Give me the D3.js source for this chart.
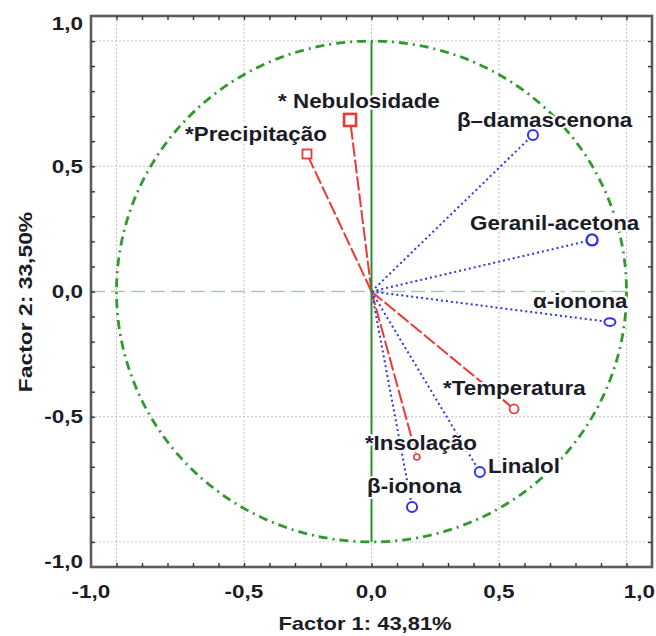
<!DOCTYPE html>
<html>
<head>
<meta charset="utf-8">
<script src="https://cdn.jsdelivr.net/npm/d3@7/dist/d3.min.js"></script>
<style>
body{margin:0;background:#fff;}
svg{display:block;}
</style>
</head>
<body>
<svg id="chart" width="656" height="636"></svg>
<script>

// factor loadings
var names = ['*Precipitação','* Nebulosidade','β–damascenona','Geranil-acetona','α-ionona','*Temperatura','*Insolação','Linalol','β-ionona'];
var groups = ['clima','clima','composto','composto','composto','clima','clima','composto','composto'];
var factor1 = [-0.253,-0.084,0.633,0.865,0.935,0.559,0.178,0.425,0.159];
var factor2 = [0.549,0.685,0.625,0.206,-0.122,-0.469,-0.661,-0.721,-0.860];

var tickVals = [-1.1,-0.5,0,0.5,1.1];
var tickLabels = ['-1,0','-0,5','0,0','0,5','1,0'];
var gridVals = [-1,-0.5,0,0.5,1];
var minorVals = [-1,-0.9,-0.8,-0.7,-0.6,-0.5,-0.4,-0.3,-0.2,-0.1,0,0.1,0.2,0.3,0.4,0.5,0.6,0.7,0.8,0.9,1];
var xTitle = 'Factor 1: 43,81%';
var yTitle = 'Factor 2: 33,50%';

// looks, kept apart from the values
var groupColor = {'clima':'#ee3838','composto':'#3434e4'};
var groupDash = {'clima':'14,3','composto':'2,3'};
var markStyle = {
	'*Precipitação':{shape:'square',size:9,w:1.8,lab:[-122,-13]},
	'* Nebulosidade':{shape:'square',size:12,w:2.6,lab:[-72,-12]},
	'β–damascenona':{shape:'circle',size:5,w:2,lab:[-76,-8]},
	'Geranil-acetona':{shape:'circle',size:5.5,w:2.4,lab:[-122,-10]},
	'α-ionona':{shape:'ellipse',size:5.5,w:2,lab:[-77,-14]},
	'*Temperatura':{shape:'circle',size:4.5,w:1.8,lab:[-71,-14]},
	'*Insolação':{shape:'circle',size:3,w:1.6,lab:[-52,-7]},
	'Linalol':{shape:'circle',size:5,w:2,lab:[8,1]},
	'β-ionona':{shape:'circle',size:5,w:2,lab:[-45,-14]}
};

var pLeft = 91, pRight = 652, pTop = 16, pBottom = 567;
var fontFam = '"Liberation Sans", Arial, sans-serif';

var svg = d3.select('#chart');
var x = d3.scaleLinear().domain([-1.1,1.1]).range([pLeft,pRight]);
var y = d3.scaleLinear().domain([-1.1,1.1]).range([pBottom,pTop]);

var points = names.map(function(n,i){
	return {name:n, group:groups[i], f1:factor1[i], f2:factor2[i]};
});

// grid
var grid = svg.append('g').attr('class','grid');
grid.selectAll('line.gx').data(gridVals).enter().append('line')
	.attr('x1',function(d){return x(d);}).attr('x2',function(d){return x(d);})
	.attr('y1',pTop).attr('y2',pBottom)
	.attr('stroke','#c4c4c4').attr('stroke-width',1).attr('stroke-dasharray','2,2');
grid.selectAll('line.gy').data(gridVals).enter().append('line')
	.attr('x1',pLeft).attr('x2',pRight)
	.attr('y1',function(d){return y(d);}).attr('y2',function(d){return y(d);})
	.attr('stroke',function(d){return d===0 ? 'none' : '#c4c4c4';})
	.attr('stroke-width',1).attr('stroke-dasharray','2,2');

// horizontal zero line
svg.append('line')
	.attr('x1',pLeft).attr('x2',x(1)).attr('y1',y(0)).attr('y2',y(0))
	.attr('stroke','#a9c9a9').attr('stroke-width',1.3).attr('stroke-dasharray','14,6');

// unit circle
svg.append('ellipse')
	.attr('cx',x(0)).attr('cy',y(0))
	.attr('rx',x(1)-x(0)).attr('ry',y(0)-y(1))
	.attr('fill','none').attr('stroke','#2f9a2f').attr('stroke-width',2.8)
	.attr('stroke-dasharray','9,5,2,5');

// vectors
svg.append('g').selectAll('line').data(points).enter().append('line')
	.attr('x1',x(0)).attr('y1',y(0))
	.attr('x2',function(d){return x(d.f1);})
	.attr('y2',function(d){return y(d.f2);})
	.attr('stroke',function(d){return groupColor[d.group];})
	.attr('stroke-width',2)
	.attr('stroke-dasharray',function(d){return groupDash[d.group];});

// vertical axis line
svg.append('line')
	.attr('x1',x(0)).attr('x2',x(0)).attr('y1',y(1)).attr('y2',y(-1))
	.attr('stroke','#2c8f2c').attr('stroke-width',2);

// markers
var marks = svg.append('g');
points.forEach(function(d){
	var st = markStyle[d.name], cx = x(d.f1), cy = y(d.f2), col = groupColor[d.group];
	var m;
	if (st.shape === 'square') {
		m = marks.append('rect')
			.attr('x',cx-st.size/2).attr('y',cy-st.size/2)
			.attr('width',st.size).attr('height',st.size);
	} else if (st.shape === 'ellipse') {
		m = marks.append('ellipse')
			.attr('cx',cx).attr('cy',cy).attr('rx',st.size).attr('ry',st.size*0.7);
	} else {
		m = marks.append('circle').attr('cx',cx).attr('cy',cy).attr('r',st.size);
	}
	m.attr('fill','#fff').attr('stroke',col).attr('stroke-width',st.w);
});

// point labels
svg.append('g').selectAll('text').data(points).enter().append('text')
	.attr('transform',function(d){
		var o = markStyle[d.name].lab;
		return 'translate(' + (x(d.f1)+o[0]) + ',' + (y(d.f2)+o[1]) + ') scale(1.12,1)';
	})
	.text(function(d){return d.name;})
	.attr('font-family',fontFam)
	.attr('font-size',20)
	.attr('font-weight','bold')
	.attr('fill','#1c1c26')
	.attr('stroke','#fff').attr('stroke-width',4)
	.attr('paint-order','stroke')
	.attr('stroke-linejoin','round');

// frame
svg.append('rect')
	.attr('x',pLeft).attr('y',pTop).attr('width',pRight-pLeft).attr('height',pBottom-pTop)
	.attr('fill','none').attr('stroke','#5c5c5c').attr('stroke-width',2.6);

// inward minor ticks on all four sides
function ticks(axis, tr){
	var g = svg.append('g').attr('transform',tr)
		.call(axis.tickValues(minorVals).tickSizeInner(-4).tickSizeOuter(0).tickFormat(''));
	g.select('.domain').remove();
	g.selectAll('.tick line').attr('stroke','#333').attr('stroke-width',1.4);
}
ticks(d3.axisBottom(x), 'translate(0,' + pBottom + ')');
ticks(d3.axisTop(x), 'translate(0,' + pTop + ')');
ticks(d3.axisLeft(y), 'translate(' + pLeft + ',0)');
ticks(d3.axisRight(y), 'translate(' + pRight + ',0)');

// tick labels
var tsx = 1.25;
svg.append('g').selectAll('text').data(tickVals).enter().append('text')
	.text(function(d,i){return tickLabels[i];})
	.attr('font-family',fontFam).attr('font-size',18).attr('font-weight','bold')
	.attr('fill','#1c1c26').attr('text-anchor','middle')
	.each(function(d){
		var half = this.getComputedTextLength()*tsx/2;
		var cx = Math.min(x(d), 655-half);
		d3.select(this).attr('transform','translate(' + cx + ',598) scale(' + tsx + ',1)');
	});

svg.append('g').selectAll('text').data(tickVals).enter().append('text')
	.text(function(d,i){return tickLabels[i];})
	.attr('font-family',fontFam).attr('font-size',18).attr('font-weight','bold')
	.attr('fill','#1c1c26').attr('text-anchor','end')
	.attr('transform',function(d){
		var cy = Math.max(pTop+7, Math.min(pBottom-6, y(d)));
		return 'translate(83,' + (cy+6.5) + ') scale(' + tsx + ',1)';
	});

// axis titles
svg.append('text')
	.attr('transform','translate(365,630) scale(1.22,1)')
	.attr('text-anchor','middle')
	.attr('font-family',fontFam).attr('font-size',18).attr('font-weight','bold')
	.attr('fill','#1c1c26')
	.text(xTitle);

svg.append('text')
	.attr('transform','translate(32,302) rotate(-90) scale(1.27,1)')
	.attr('text-anchor','middle')
	.attr('font-family',fontFam).attr('font-size',18).attr('font-weight','bold')
	.attr('fill','#1c1c26')
	.text(yTitle);

</script>
</body>
</html>
